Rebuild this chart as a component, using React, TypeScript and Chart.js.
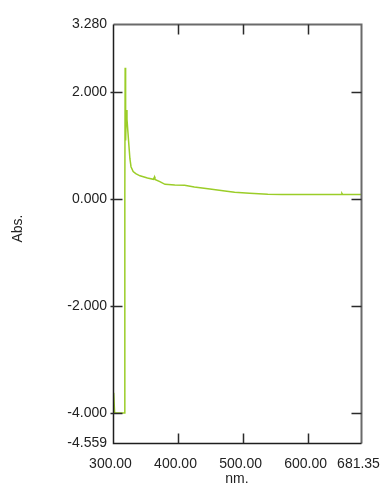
import React, { useEffect, useRef } from "react";
import { Chart, registerables } from "chart.js";

Chart.register(...registerables);

const wavelengths = [
  301, 302.5, 317.5, 318.2, 318.7, 319.4, 320.6, 321.5, 323, 324.5, 326, 327.7,
  331, 335, 341.5, 353, 362, 363.8, 364.5, 372, 380, 395, 410, 425, 449, 472,
  487, 510, 538, 560, 600, 630, 651, 652, 653, 681.35,
];
const absorbance = [
  -3.62, -4.0, -4.0, 0.15, 2.46, 1.1, 1.67, 1.5, 1.25, 1.0, 0.76, 0.61,
  0.52, 0.48, 0.44, 0.4, 0.375, 0.42, 0.37, 0.33, 0.28, 0.268, 0.265, 0.23, 0.193, 0.156,
  0.131, 0.113, 0.094, 0.09, 0.09, 0.09, 0.09, 0.11, 0.09, 0.09,
];
const xTickValues = [300, 400, 500, 600, 681.35];
const yTickValues = [-4.559, -4.0, -2.0, 0.0, 2.0, 3.28];
const xTitle = "nm.";
const yTitle = "Abs.";

const FONT = '"Liberation Sans", Arial, sans-serif';

const framePlugin = {
  id: "frame",
  afterDatasetsDraw(chart: any) {
    const { ctx, chartArea } = chart;
    const { left, right, top, bottom } = chartArea;
    const xs = chart.scales.x;
    const ys = chart.scales.y;
    const L = Math.round(left) + 0.5;
    const R = Math.round(right) + 0.5;
    const T = Math.round(top) + 0.5;
    const B = Math.round(bottom) + 0.5;
    ctx.save();
    // top & right (gray)
    ctx.strokeStyle = "#6a6a6a";
    ctx.lineWidth = 2;
    ctx.beginPath();
    ctx.moveTo(L, T);
    ctx.lineTo(R, T);
    ctx.lineTo(R, B);
    ctx.stroke();
    // left & bottom (dark)
    ctx.strokeStyle = "#1e1e1e";
    ctx.lineWidth = 1.5;
    ctx.beginPath();
    ctx.moveTo(L, T);
    ctx.lineTo(L, B);
    ctx.lineTo(R, B);
    ctx.stroke();
    // ticks
    ctx.strokeStyle = "#2a2a2a";
    ctx.lineWidth = 1.5;
    ctx.beginPath();
    xTickValues.slice(1, -1).forEach((v) => {
      const px = Math.round(xs.getPixelForValue(v)) + 0.5;
      ctx.moveTo(px, B);
      ctx.lineTo(px, B - 10);
      ctx.moveTo(px, T);
      ctx.lineTo(px, T + 10);
    });
    yTickValues.slice(1, -1).forEach((v) => {
      const py = Math.round(ys.getPixelForValue(v)) + 0.5;
      ctx.moveTo(L - 3, py);
      ctx.lineTo(L + 9, py);
      ctx.moveTo(R, py);
      ctx.lineTo(R - 10, py);
    });
    ctx.stroke();
    // titles
    ctx.fillStyle = "#222";
    ctx.font = `14px ${FONT}`;
    ctx.textAlign = "center";
    ctx.textBaseline = "middle";
    ctx.fillText(xTitle, (left + right) / 2, 479);
    ctx.translate(18.4, (top + bottom) / 2 - 5);
    ctx.rotate(-Math.PI / 2);
    ctx.fillText(yTitle, 0, 0);
    ctx.restore();
  },
};

export default function App() {
  const canvasRef = useRef<HTMLCanvasElement | null>(null);

  useEffect(() => {
    if (!canvasRef.current) return;
    const chart = new Chart(canvasRef.current, {
      type: "line",
      data: {
        datasets: [
          {
            data: wavelengths.map((w, i) => ({ x: w, y: absorbance[i] })),
            borderColor: "rgb(155,205,40)",
            borderWidth: 1.5,
            pointRadius: 0,
            tension: 0,
            fill: false,
          },
        ],
      },
      options: {
        animation: false,
        responsive: true,
        maintainAspectRatio: false,
        layout: { padding: { top: 24, right: 21, left: 0, bottom: 0 } },
        plugins: {
          legend: { display: false },
          tooltip: { enabled: false },
          title: { display: false },
        },
        scales: {
          x: {
            type: "linear",
            min: 300,
            max: 681.35,
            grid: { display: false, drawTicks: false },
            border: { display: false },
            afterBuildTicks: (scale: any) => {
              scale.ticks = xTickValues.map((v) => ({ value: v }));
            },
            afterFit: (scale: any) => {
              scale.height = 44;
              scale.paddingLeft = 0;
              scale.paddingRight = 0;
            },
            ticks: {
              autoSkip: false,
              maxRotation: 0,
              minRotation: 0,
              padding: 13,
              labelOffset: -2.5,
              color: "#222",
              font: { family: FONT, size: 14 },
              callback: (v: any) => Number(v).toFixed(2),
            },
          },
          y: {
            type: "linear",
            min: -4.559,
            max: 3.28,
            grid: { display: false, drawTicks: false },
            border: { display: false },
            afterBuildTicks: (scale: any) => {
              scale.ticks = yTickValues.map((v) => ({ value: v }));
            },
            afterFit: (scale: any) => {
              scale.width = 113;
              scale.paddingTop = 0;
              scale.paddingBottom = 0;
            },
            ticks: {
              autoSkip: false,
              padding: 6,
              color: "#222",
              font: { family: FONT, size: 14 },
              callback: (v: any) => Number(v).toFixed(3),
            },
          },
        },
      },
      plugins: [framePlugin],
    });
    return () => chart.destroy();
  }, []);

  return (
    <div style={{ position: "fixed", left: 0, top: 0, width: 382, height: 487, background: "#fff" }}>
      <canvas ref={canvasRef} />
    </div>
  );
}
